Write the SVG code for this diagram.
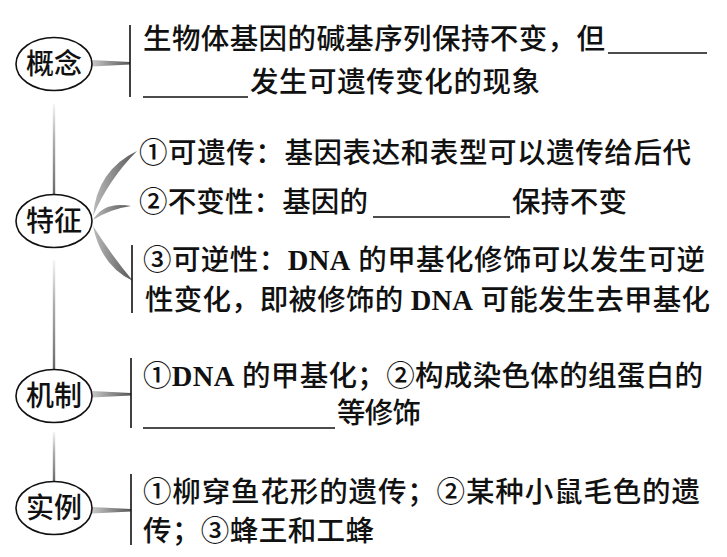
<svg xmlns="http://www.w3.org/2000/svg" width="727" height="557" viewBox="0 0 727 557">
<style>
  .t{font-family:"Liberation Serif","Noto Sans CJK SC",serif;font-size:28.5px;font-weight:500;fill:#111;}
  .lab{font-family:"Noto Sans CJK SC",sans-serif;font-size:28px;font-weight:500;fill:#111;text-anchor:middle;}
  .b{font-weight:bold;}
  .c{font-family:"Noto Sans CJK SC",sans-serif;}
  .ell{fill:#fff;stroke:#111;stroke-width:1.6;}
  .bar{stroke:#111;stroke-width:1.6;fill:none;}
  .ul{stroke:#111;stroke-width:1.6;fill:none;}
  .vc{fill:url(#gv);}
  .hc{fill:url(#gh);}
  .cv{fill:url(#gc);}
</style>
<defs>
  <linearGradient id="gv" x1="0" y1="0" x2="0" y2="1">
    <stop offset="0" stop-color="#999" stop-opacity="0.1"/>
    <stop offset="0.4" stop-color="#999" stop-opacity="0.8"/>
    <stop offset="1" stop-color="#666"/>
  </linearGradient>
  <linearGradient id="gh" x1="0" y1="0" x2="1" y2="0">
    <stop offset="0" stop-color="#c8c8c8"/>
    <stop offset="1" stop-color="#555"/>
  </linearGradient>
  <linearGradient id="gc" x1="0" y1="0" x2="1" y2="0">
    <stop offset="0" stop-color="#bbb"/>
    <stop offset="1" stop-color="#555"/>
  </linearGradient>
</defs>
<rect width="727" height="557" fill="#fff"/>

<g id="connectors">
  <rect class="vc" x="52.8" y="104" width="2.4" height="91"/>
  <rect class="vc" x="52.8" y="260" width="2.4" height="110"/>
  <rect class="vc" x="52.8" y="432" width="2.4" height="50"/>
  <polygon class="hc" points="92,60 130,62 130,64.5 92,66.5"/>
  <polygon class="hc" points="92,391 131,393 131,395.5 92,397.5"/>
  <polygon class="hc" points="92,507 131,509 131,511.5 92,513.5"/>
  <path class="cv" d="M93,216 Q97,170 137,151 Q109,179 93,216 Z"/>
  <path class="cv" d="M93,220 Q104,201 131,206 Q110,209 93,220 Z"/>
  <path class="cv" d="M93,226 Q101,266 133,281 Q112,256 93,226 Z"/>
</g>

<g id="node-gainian">
  <ellipse class="ell" cx="54" cy="64" rx="38" ry="26.5"/>
  <text class="lab" x="54" y="74">概念</text>
  <line class="bar" x1="130" y1="25" x2="130" y2="97"/>
  <text class="t" x="143" y="49" textLength="462" lengthAdjust="spacing">生物体基因的碱基序列保持不变，但</text>
  <line class="ul" x1="608" y1="53" x2="707" y2="53"/>
  <line class="ul" x1="143" y1="97" x2="248" y2="97"/>
  <text class="t" x="250" y="92" textLength="290" lengthAdjust="spacing">发生可遗传变化的现象</text>
</g>

<g id="node-tezheng">
  <ellipse class="ell" cx="54" cy="221" rx="38" ry="26.5"/>
  <text class="lab" x="54" y="231">特征</text>
  <text class="t" x="139" y="163" textLength="552" lengthAdjust="spacing"><tspan class="c">①</tspan>可遗传：基因表达和表型可以遗传给后代</text>
  <text class="t" x="139" y="212" textLength="229" lengthAdjust="spacing"><tspan class="c">②</tspan>不变性：基因的</text>
  <line class="ul" x1="373" y1="217" x2="510" y2="217"/>
  <text class="t" x="512" y="212" textLength="115" lengthAdjust="spacing">保持不变</text>
  <line class="bar" x1="132" y1="245" x2="132" y2="313"/>
  <text class="t" x="143" y="270" textLength="562" lengthAdjust="spacing"><tspan class="c">③</tspan>可逆性：<tspan class="b">DNA</tspan> 的甲基化修饰可以发生可逆</text>
  <text class="t" x="145" y="310" textLength="565" lengthAdjust="spacing">性变化，即被修饰的 <tspan class="b">DNA</tspan> 可能发生去甲基化</text>
</g>

<g id="node-jizhi">
  <ellipse class="ell" cx="54" cy="396" rx="38" ry="26.5"/>
  <text class="lab" x="54" y="406">机制</text>
  <line class="bar" x1="131" y1="358" x2="131" y2="428"/>
  <text class="t" x="143" y="386" textLength="560" lengthAdjust="spacing"><tspan class="c">①</tspan><tspan class="b">DNA</tspan> 的甲基化；<tspan class="c">②</tspan>构成染色体的组蛋白的</text>
  <line class="ul" x1="143" y1="428" x2="335" y2="428"/>
  <text class="t" x="337" y="423" textLength="84" lengthAdjust="spacing">等修饰</text>
</g>

<g id="node-shili">
  <ellipse class="ell" cx="54" cy="508" rx="38" ry="26.5"/>
  <text class="lab" x="54" y="518">实例</text>
  <line class="bar" x1="131" y1="474" x2="131" y2="545"/>
  <text class="t" x="143" y="502" textLength="557" lengthAdjust="spacing"><tspan class="c">①</tspan>柳穿鱼花形的遗传；<tspan class="c">②</tspan>某种小鼠毛色的遗</text>
  <text class="t" x="143" y="541" textLength="231" lengthAdjust="spacing">传；<tspan class="c">③</tspan>蜂王和工蜂</text>
</g>
</svg>
